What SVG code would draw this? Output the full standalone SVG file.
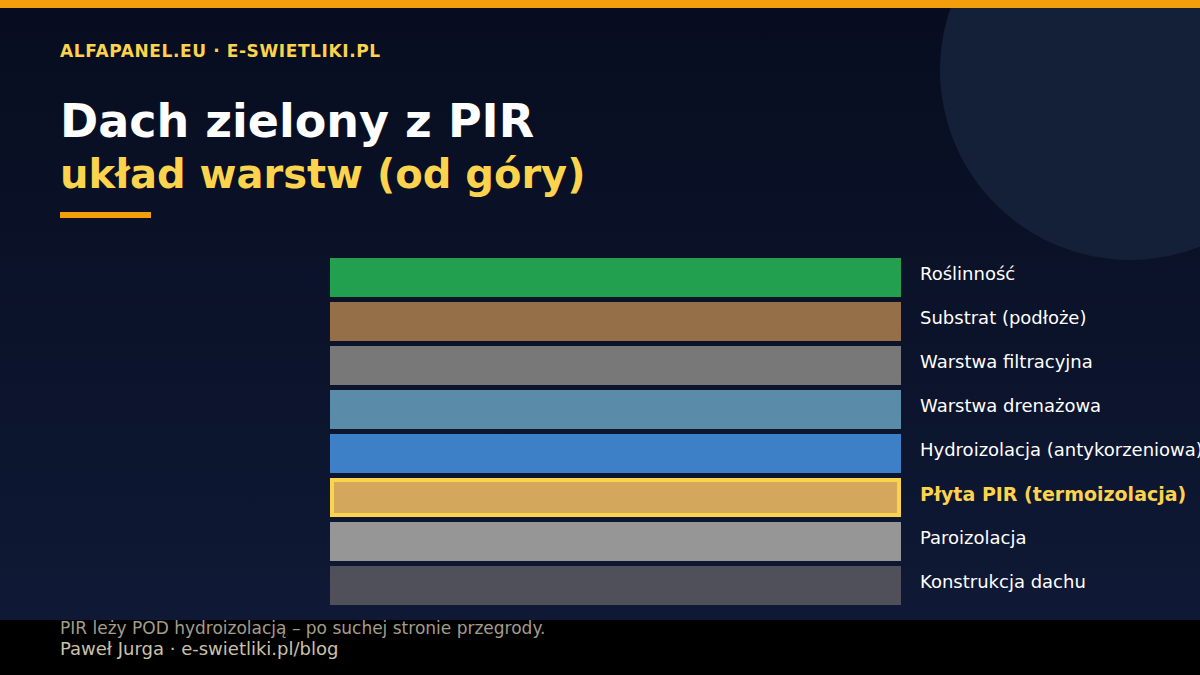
<svg xmlns="http://www.w3.org/2000/svg" width="1200" height="675" viewBox="0 0 1200 675">
<defs>
<linearGradient id="bg" x1="0" y1="0" x2="0" y2="1">
<stop offset="0" stop-color="#070d1f"/>
<stop offset="1" stop-color="#101a37"/>
</linearGradient>
</defs>
<style>
.lbl{font-family:"DejaVu Sans",sans-serif;font-size:18px;fill:#ffffff}
.hl{font-family:"DejaVu Sans",sans-serif;font-size:19px;font-weight:bold;fill:#fcd34d}
</style>
<rect x="0" y="0" width="1200" height="675" fill="url(#bg)"/>
<circle cx="1130" cy="70" r="190" fill="#141f38"/>
<rect x="0" y="0" width="1200" height="8" fill="#f59e0b"/>
<rect x="0" y="620" width="1200" height="55" fill="#000000"/>
<text x="60" y="57" font-family="DejaVu Sans, sans-serif" font-size="17" font-weight="bold" fill="#fcd34d" letter-spacing="0.6">ALFAPANEL.EU · E-SWIETLIKI.PL</text>
<text x="60" y="137" font-family="DejaVu Sans, sans-serif" font-size="46" font-weight="bold" fill="#ffffff">Dach zielony z PIR</text>
<text x="60" y="188" font-family="DejaVu Sans, sans-serif" font-size="40" font-weight="bold" fill="#fcd34d">układ warstw (od góry)</text>
<rect x="60" y="212" width="91" height="6" fill="#f59e0b"/>
<g id="layer-1"><rect x="330" y="258" width="571" height="39" fill="#22a04f"/><text class="lbl" x="920" y="280">Roślinność</text></g>
<g id="layer-2"><rect x="330" y="302" width="571" height="39" fill="#946f47"/><text class="lbl" x="920" y="324">Substrat (podłoże)</text></g>
<g id="layer-3"><rect x="330" y="346" width="571" height="39" fill="#787878"/><text class="lbl" x="920" y="368">Warstwa filtracyjna</text></g>
<g id="layer-4"><rect x="330" y="390" width="571" height="39" fill="#5a8ba9"/><text class="lbl" x="920" y="412">Warstwa drenażowa</text></g>
<g id="layer-5"><rect x="330" y="434" width="571" height="39" fill="#3d80c7"/><text class="lbl" x="920" y="456">Hydroizolacja (antykorzeniowa)</text></g>
<g id="layer-6"><rect x="332" y="480" width="567" height="35" fill="#d4a85c" stroke="#fcd34d" stroke-width="4"/><text class="hl" x="920" y="500.5">Płyta PIR (termoizolacja)</text></g>
<g id="layer-7"><rect x="330" y="522" width="571" height="39" fill="#969696"/><text class="lbl" x="920" y="544">Paroizolacja</text></g>
<g id="layer-8"><rect x="330" y="566" width="571" height="39" fill="#50505b"/><text class="lbl" x="920" y="588">Konstrukcja dachu</text></g>
<g id="connectors"/>
<text x="60" y="634" font-family="DejaVu Sans, sans-serif" font-size="17" fill="#a39d8c">PIR leży POD hydroizolacją – po suchej stronie przegrody.</text>
<text x="60" y="655" font-family="DejaVu Sans, sans-serif" font-size="18" fill="#cbc2aa">Paweł Jurga · e-swietliki.pl/blog</text>
</svg>
